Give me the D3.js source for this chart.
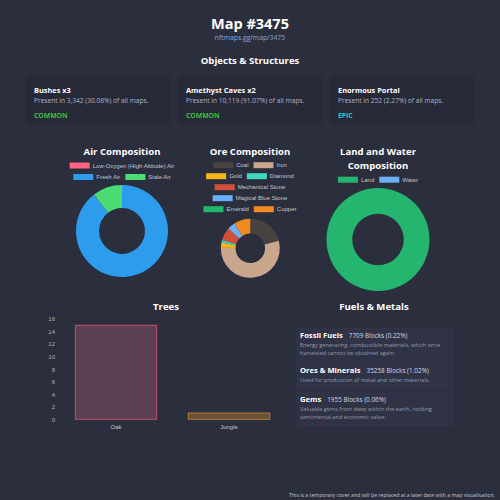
<!DOCTYPE html>
<html><head><meta charset="utf-8">
<script src="https://cdn.jsdelivr.net/npm/d3@7"></script>
<style>
html,body{margin:0;padding:0;background:#2b2e3d;}
svg{display:block}
</style></head><body><svg id="c" width="500" height="500"></svg>
<script>
// ---------- data ----------
const pageTitle = "Map #3475";
const pageUrl = "nftmaps.gg/map/3475";
const sectionTitle = "Objects & Structures";
const objNames = ["Bushes x3", "Amethyst Caves x2", "Enormous Portal"];
const objPresence = ["Present in 3,342 (30.08%) of all maps.", "Present in 10,119 (91.07%) of all maps.", "Present in 252 (2.27%) of all maps."];
const objRarity = ["COMMON", "COMMON", "EPIC"];
const rarityColors = {COMMON: "#3fbf3a", EPIC: "#2cc7c0"};

const airLabels = ["Low-Oxygen (High Altitude) Air", "Fresh Air", "Stale Air"];
const airValues = [0, 89.6, 10.4];
const airColors = ["#ff6384", "#2e9cec", "#4bdc73"];

const oreLabels = ["Coal", "Iron", "Gold", "Diamond", "Mechanical Stone", "Magical Blue Stone", "Emerald", "Copper"];
const oreValues = [20.9, 54.4, 2.9, 1.4, 7.1, 4.2, 0, 9.1];
const oreColors = ["#48433f", "#c9a68c", "#f5b81c", "#3fd6c4", "#d0503c", "#6ab0f5", "#22b86a", "#f28a20"];

const landLabels = ["Land", "Water"];
const landValues = [100, 0];
const landColors = ["#24b56f", "#6cb0f5"];

const treeLabels = ["Oak", "Jungle"];
const treeValues = [15, 1];
const treeTicks = [0, 2, 4, 6, 8, 10, 12, 14, 16];
const treeFill = ["#5c3f50", "#6a5034"];
const treeStroke = ["#c2506e", "#b07a3c"];

const fuelNames = ["Fossil Fuels", "Ores & Minerals", "Gems"];
const fuelBlocks = ["7709 Blocks (0.22%)", "35258 Blocks (1.02%)", "1955 Blocks (0.06%)"];
const fuelDescs = [
  ["Energy generating, combustible materials, which once", "harvested cannot be obtained again."],
  ["Used for production of metal and other materials."],
  ["Valuable gems from deep within the earth, holding", "sentimental and economic value."]
];
const footerText = "This is a temporary cover and will be replaced at a later date with a map visualisation.";

// ---------- drawing ----------
const svg = d3.select("#c");
const HEAD = "'Open Sans', 'Noto Sans', sans-serif";
const CJS = "'Liberation Sans', Arial, sans-serif";

svg.append("rect").attr("width", 500).attr("height", 500).attr("fill", "#2b2e3d");

svg.append("text").attr("x", 250).attr("y", 28.5).attr("text-anchor", "middle")
  .attr("font-family", HEAD).attr("font-weight", 700).attr("font-size", 14.5).attr("fill", "#ffffff").text(pageTitle);
svg.append("text").attr("x", 250).attr("y", 39.5).attr("text-anchor", "middle")
  .attr("font-family", HEAD).attr("font-size", 6.8).attr("fill", "#86a6e0").text(pageUrl);
svg.append("text").attr("x", 250).attr("y", 63.5).attr("text-anchor", "middle")
  .attr("font-family", HEAD).attr("font-weight", 700).attr("font-size", 9.6).attr("fill", "#ffffff").text(sectionTitle);

// object cards
const cardX = d3.scaleBand().domain(d3.range(objNames.length)).range([26, 482]).paddingInner(0.0);
objNames.forEach((n, i) => {
  const x0 = cardX(i);
  const g = svg.append("g").attr("transform", `translate(${x0},76)`);
  g.append("rect").attr("width", 144).attr("height", 48).attr("rx", 2).attr("fill", "#262938");
  g.append("text").attr("x", 8).attr("y", 16.8).attr("font-family", HEAD).attr("font-weight", 700)
    .attr("font-size", 7.4).attr("fill", "#ffffff").text(n);
  g.append("text").attr("x", 8).attr("y", 27.3).attr("font-family", HEAD)
    .attr("font-size", 6.6).attr("fill", "#aeb4c6").text(objPresence[i]);
  g.append("text").attr("x", 8).attr("y", 41.5).attr("font-family", HEAD).attr("font-weight", 700)
    .attr("font-size", 6.8).attr("fill", rarityColors[objRarity[i]]).text(objRarity[i]);
});

// legend helper (Chart.js-like)
function legend(labels, colors, cx, y0, maxW, rowH) {
  const g = svg.append("g");
  const fs = 6, boxW = 20, boxH = 6, gap = 3, pad = 5;
  const tmp = g.append("text").attr("font-family", CJS).attr("font-size", fs);
  const items = labels.map((l, i) => {
    tmp.text(l);
    const tw = tmp.node().getComputedTextLength();
    return {l, c: colors[i], w: boxW + gap + tw};
  });
  tmp.remove();
  const rows = [];
  let cur = [], cw = 0;
  items.forEach(it => {
    const add = cur.length ? pad + it.w : it.w;
    if (cur.length && cw + add > maxW) { rows.push({items: cur, w: cw}); cur = [it]; cw = it.w; }
    else { cur.push(it); cw += add; }
  });
  if (cur.length) rows.push({items: cur, w: cw});
  rows.forEach((r, ri) => {
    let x = cx - r.w / 2;
    const y = y0 + ri * rowH;
    r.items.forEach(it => {
      g.append("rect").attr("x", x).attr("y", y - boxH / 2).attr("width", boxW).attr("height", boxH).attr("fill", it.c);
      g.append("text").attr("x", x + boxW + gap).attr("y", y + 2.1).attr("font-family", CJS)
        .attr("font-size", fs).attr("fill", "#c4c7d0").text(it.l);
      x += it.w + pad;
    });
  });
}

function donut(values, colors, cx, cy, r) {
  const pie = d3.pie().sort(null).value(d => d)(values);
  const arc = d3.arc().innerRadius(r / 2).outerRadius(r);
  svg.append("g").attr("transform", `translate(${cx},${cy})`)
    .selectAll("path").data(pie).join("path")
    .attr("d", arc).attr("fill", (d, i) => colors[i]);
}

function chartTitle(lines, cx, y) {
  lines.forEach((t, i) => svg.append("text").attr("x", cx).attr("y", y + i * 14).attr("text-anchor", "middle")
    .attr("font-family", HEAD).attr("font-weight", 700).attr("font-size", 9.6).attr("fill", "#ffffff").text(t));
}

chartTitle(["Air Composition"], 122, 155.2);
legend(airLabels, airColors, 122, 165.5, 130, 11.5);
donut(airValues, airColors, 122, 231, 46);

chartTitle(["Ore Composition"], 250, 155.2);
legend(oreLabels, oreColors, 250, 165.2, 112, 11);
donut(oreValues, oreColors, 250.3, 248.3, 29.5);

chartTitle(["Land and Water", "Composition"], 378, 155.2);
legend(landLabels, landColors, 378, 179.7, 160, 11);
donut(landValues, landColors, 378, 239.5, 51.5);

// Trees bar chart
chartTitle(["Trees"], 166, 310.3);
const x = d3.scaleBand().domain(treeLabels).range([59.5, 285.5]);
const y = d3.scaleLinear().domain([0, 16]).range([419.3, 319]);
const bw = x.bandwidth() * 0.72;
svg.append("g").selectAll("rect").data(treeValues).join("rect")
  .attr("x", (d, i) => x(treeLabels[i]) + (x.bandwidth() - bw) / 2)
  .attr("y", d => y(d)).attr("width", bw).attr("height", d => y(0) - y(d))
  .attr("fill", (d, i) => treeFill[i]).attr("stroke", (d, i) => treeStroke[i]).attr("stroke-width", 1);
const ya = svg.append("g").attr("transform", "translate(58,0)")
  .call(d3.axisLeft(y).tickValues(treeTicks).tickSize(0).tickPadding(3));
ya.select(".domain").remove();
ya.selectAll("text").attr("font-family", CJS).attr("font-size", 6).attr("fill", "#aeb2bd");
const xa = svg.append("g").attr("transform", "translate(0,419.3)")
  .call(d3.axisBottom(x).tickSize(0).tickPadding(5));
xa.select(".domain").remove();
xa.selectAll("text").attr("font-family", CJS).attr("font-size", 6).attr("fill", "#c4c7d0");

// Fuels & Metals
chartTitle(["Fuels & Metals"], 374, 310.3);
const itemTop = [327, 362, 391.5];
const itemH = [34, 28, 35];
fuelNames.forEach((n, i) => {
  const g = svg.append("g").attr("transform", `translate(296.5,${itemTop[i]})`);
  g.append("rect").attr("width", 157).attr("height", itemH[i]).attr("fill", "#2f3345");
  const t = g.append("text").attr("x", 3.5).attr("y", 10.5).attr("font-family", HEAD);
  t.append("tspan").attr("font-weight", 700).attr("font-size", 7.6).attr("fill", "#ffffff").text(n);
  t.append("tspan").attr("dx", 6).attr("font-size", 6.4).attr("fill", "#d2d7e6").text(fuelBlocks[i]);
  fuelDescs[i].forEach((line, j) => {
    g.append("text").attr("x", 3.5).attr("y", 19.5 + j * 8).attr("font-family", HEAD)
      .attr("font-size", 5.6).attr("fill", "#959bad").text(line);
  });
});

svg.append("text").attr("x", 495).attr("y", 496.5).attr("text-anchor", "end")
  .attr("font-family", HEAD).attr("font-size", 5.2).attr("fill", "#c4c8d4").text(footerText);
</script></body></html>
